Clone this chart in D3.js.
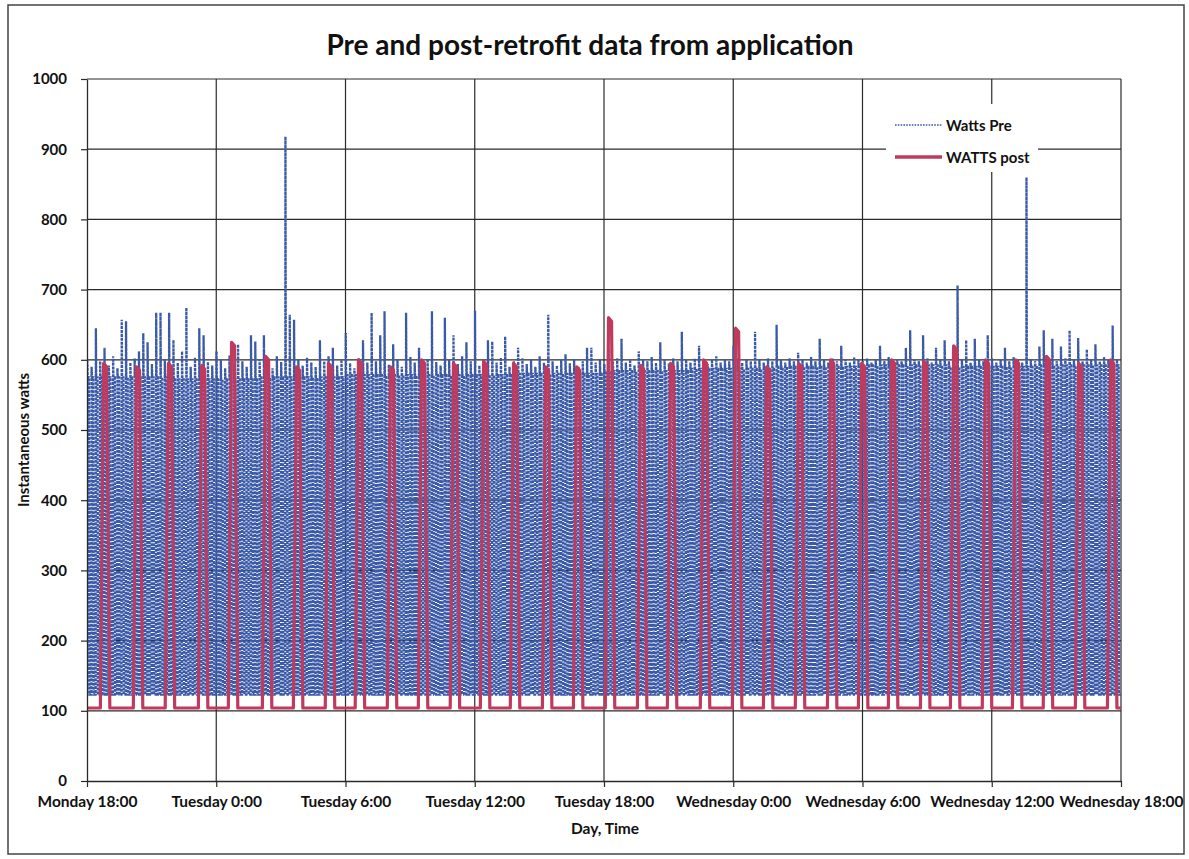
<!DOCTYPE html>
<html>
<head>
<meta charset="utf-8">
<script src="https://cdn.jsdelivr.net/npm/d3@7/dist/d3.min.js"></script>
<style>
  html, body { margin: 0; padding: 0; background: #ffffff; }
  svg { display: block; }
  text { font-family: Lato, "Open Sans", "Liberation Sans", sans-serif; fill: #111; }
</style>
</head>
<body>
<svg id="chart" width="1189" height="859"></svg>
<script>
// ---------------- DATA ----------------
const chartTitle = "Pre and post-retrofit data from application";
const xTitle = "Day, Time";
const yTitle = "Instantaneous watts";
const seriesNames = ["Watts Pre", "WATTS post"];

// x axis: hours since Monday 18:00
const xTickHours = [0, 6, 12, 18, 24, 30, 36, 42, 48];
const xTickLabels = ["Monday 18:00", "Tuesday 0:00", "Tuesday 6:00", "Tuesday 12:00",
  "Tuesday 18:00", "Wednesday 0:00", "Wednesday 6:00", "Wednesday 12:00", "Wednesday 18:00"];
const yTicks = [0, 100, 200, 300, 400, 500, 600, 700, 800, 900, 1000];

// Pre-retrofit: one on/off cycle every 12 minutes (0.2 h); start spike value per cycle
const preCycleHours = 0.2;
const preOff = 123;
const prePeaks = [
  600, 590, 645, 598, 617, 592, 605, 588, 657, 655, 596, 602, 612, 638, 625, 594, 667, 667, 600, 667,
  628, 596, 612, 674, 590, 603, 645, 635, 597, 592, 612, 600, 588, 606, 595, 622, 598, 590, 635, 626,
  600, 635, 594, 588, 605, 597, 918, 664, 657, 600, 592, 603, 596, 590, 628, 598, 605, 617, 592, 600,
  638, 595, 588, 602, 628, 596, 667, 598, 635, 669, 593, 622, 600, 590, 667, 604, 596, 617, 590, 601,
  669, 597, 592, 660, 600, 635, 594, 605, 625, 598, 670, 592, 600, 628, 626, 596, 603, 633, 590, 598,
  617, 602, 594, 600, 590, 605, 596, 664, 598, 592, 600, 608, 595, 601, 590, 598, 617, 617, 596, 600,
  594, 615, 598, 602, 630, 596, 600, 592, 612, 600, 598, 604, 596, 625, 600, 595, 602, 598, 640, 600,
  596, 602, 620, 598, 594, 600, 605, 596, 600, 598, 620, 602, 596, 600, 598, 640, 600, 596, 602, 598,
  650, 600, 596, 602, 598, 610, 600, 596, 604, 598, 630, 600, 596, 602, 598, 620, 600, 596, 604, 600,
  598, 602, 596, 600, 620, 598, 604, 596, 600, 598, 617, 642, 600, 598, 635, 602, 596, 617, 600, 628,
  598, 602, 706, 600, 628, 596, 630, 600, 598, 635, 602, 596, 600, 617, 598, 604, 600, 596, 860, 600,
  598, 619, 642, 600, 630, 598, 619, 602, 642, 600, 631, 598, 615, 600, 622, 598, 604, 600, 649, 600
];
// running level after the start spike, per 4-hour block (20 cycles)
const preHoldByBlock = [575, 572, 575, 578, 578, 580, 584, 587, 590, 592, 590, 592];

// Post-retrofit: pulse centres (hours) and peak watts
const postOff = 104;
const postCenters = [0.84, 2.37, 3.85, 5.39, 6.78, 8.36, 9.80, 11.28, 12.67, 14.16, 15.60, 17.08,
  18.48, 19.87, 21.36, 22.80, 24.28, 25.77, 27.16, 28.69, 30.18, 31.62, 33.10, 34.59, 36.03,
  37.42, 38.91, 40.30, 41.78, 43.18, 44.61, 46.10, 47.59];
const postPeaks = [595, 590, 595, 592, 625, 605, 590, 595, 600, 590, 600, 595,
  598, 595, 590, 590, 660, 592, 595, 600, 645, 590, 595, 600, 595,
  600, 598, 620, 600, 600, 605, 595, 600];

// ---------------- BUILD SERIES ----------------
const preData = [];
prePeaks.forEach((pk, i) => {
  const t0 = i * preCycleHours;
  const hold = preHoldByBlock[Math.floor(i / 20)];
  preData.push({ t: t0, v: preOff });
  preData.push({ t: t0 + 0.06 * preCycleHours, v: pk });
  preData.push({ t: t0 + 0.14 * preCycleHours, v: hold });
  preData.push({ t: t0 + 0.46 * preCycleHours, v: hold });
  preData.push({ t: t0 + 0.54 * preCycleHours, v: preOff });
});
preData.push({ t: 48, v: preOff });

const postData = [{ t: 0, v: postOff }];
postCenters.forEach((c, i) => {
  postData.push({ t: c - 0.22, v: postOff });
  postData.push({ t: c - 0.07, v: postPeaks[i] });
  postData.push({ t: c + 0.07, v: postPeaks[i] - 5 });
  postData.push({ t: c + 0.22, v: postOff });
});
postData.push({ t: 48, v: postOff });

// ---------------- DRAW ----------------
const svg = d3.select("#chart");
const plot = { left: 87, right: 1121, top: 79, bottom: 781 };

const blue = "#3a5aa8";
const red = "#c03a5e";
const gridCol = "#2a2a2a";

// outer frame
svg.append("rect").attr("x", 8).attr("y", 5).attr("width", 1176).attr("height", 849)
  .attr("fill", "#fff").attr("stroke", "#444").attr("stroke-width", 1.5);

const x = d3.scaleLinear().domain([0, 48]).range([plot.left, plot.right]);
const y = d3.scaleLinear().domain([0, 1000]).range([plot.bottom, plot.top]);

// gridlines
svg.append("g").selectAll("line").data(yTicks.filter(d => d > 0)).join("line")
  .attr("x1", plot.left).attr("x2", plot.right)
  .attr("y1", d => y(d)).attr("y2", d => y(d))
  .attr("stroke", gridCol).attr("stroke-width", 1.2);
svg.append("g").selectAll("line").data(xTickHours.filter(d => d > 0)).join("line")
  .attr("x1", d => x(d)).attr("x2", d => x(d))
  .attr("y1", plot.top).attr("y2", plot.bottom)
  .attr("stroke", gridCol).attr("stroke-width", 1.2);

// clip
svg.append("clipPath").attr("id", "clip").append("rect")
  .attr("x", plot.left).attr("y", plot.top)
  .attr("width", plot.right - plot.left).attr("height", plot.bottom - plot.top);

const line = d3.line().x(d => x(d.t)).y(d => y(d.v));

const g = svg.append("g").attr("clip-path", "url(#clip)");
g.append("path").datum(preData).attr("d", line)
  .attr("fill", "none").attr("stroke", blue).attr("stroke-width", 2.3)
  .attr("stroke-dasharray", "3,0.9");
g.append("path").datum(postData).attr("d", line)
  .attr("fill", "none").attr("stroke", red).attr("stroke-width", 3.2)
  .attr("stroke-linejoin", "round");

// axes
const yAxis = d3.axisLeft(y).tickValues(yTicks).tickFormat(d3.format("d"))
  .tickSize(6).tickSizeOuter(0).tickPadding(14);
const yG = svg.append("g").attr("transform", `translate(${plot.left},0)`).call(yAxis);
yG.select(".domain").attr("stroke", gridCol).attr("stroke-width", 1.3);
yG.selectAll(".tick line").attr("stroke", gridCol).attr("stroke-width", 1.2);
yG.selectAll(".tick text").style("font-size", "15px").style("font-weight", "bold")
  .attr("fill", "#111");

const xAxis = d3.axisBottom(x).tickValues(xTickHours)
  .tickFormat((d, i) => xTickLabels[i]).tickSize(6).tickSizeOuter(0).tickPadding(9);
const xG = svg.append("g").attr("transform", `translate(0,${plot.bottom})`).call(xAxis);
xG.select(".domain").attr("stroke", gridCol).attr("stroke-width", 1.3);
xG.selectAll(".tick line").attr("stroke", gridCol).attr("stroke-width", 1.2);
xG.selectAll(".tick text").style("font-size", "15.5px").style("font-weight", "bold")
  .attr("fill", "#111");

// titles
svg.append("text").attr("x", 590).attr("y", 55).attr("text-anchor", "middle")
  .style("font-size", "28px").style("font-weight", "bold").text(chartTitle);
svg.append("text").attr("x", 605).attr("y", 834).attr("text-anchor", "middle")
  .style("font-size", "15.5px").style("font-weight", "bold").text(xTitle);
svg.append("text").attr("transform", "translate(29,440) rotate(-90)").attr("text-anchor", "middle")
  .style("font-size", "15px").style("font-weight", "bold").text(yTitle);

// legend
const lg = svg.append("g");
lg.append("rect").attr("x", 886).attr("y", 104).attr("width", 152).attr("height", 68).attr("fill", "#fff");
lg.append("line").attr("x1", 895).attr("x2", 942).attr("y1", 125).attr("y2", 125)
  .attr("stroke", blue).attr("stroke-width", 1.6).attr("stroke-dasharray", "1.6,1.2");
lg.append("text").attr("x", 946).attr("y", 131).style("font-size", "15px").style("font-weight", "bold")
  .text(seriesNames[0]);
lg.append("line").attr("x1", 895).attr("x2", 942).attr("y1", 157).attr("y2", 157)
  .attr("stroke", red).attr("stroke-width", 3.5);
lg.append("text").attr("x", 946).attr("y", 163).style("font-size", "15px").style("font-weight", "bold")
  .text(seriesNames[1]);
</script>
</body>
</html>
